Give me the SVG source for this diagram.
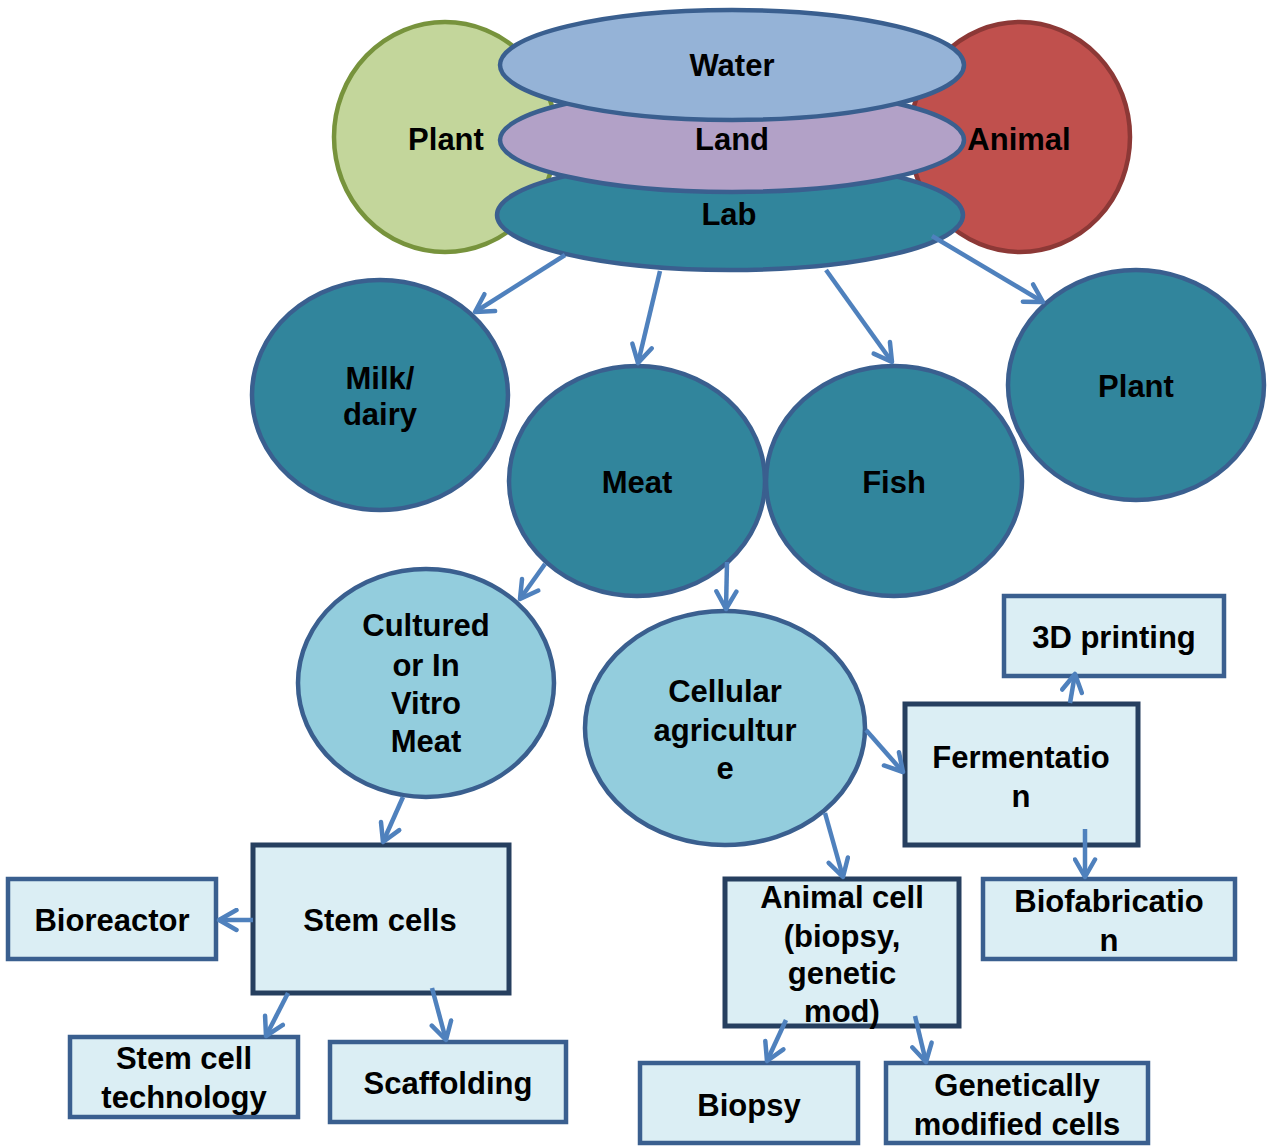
<svg xmlns="http://www.w3.org/2000/svg" width="1268" height="1147" viewBox="0 0 1268 1147">
<defs>
<style>
text{font-family:"Liberation Sans",Arial,sans-serif;font-weight:bold;font-size:31px;fill:#000;text-anchor:middle}
.teal{fill:#31859C;stroke:#3A5F8F;stroke-width:4.5}
.light{fill:#93CDDD;stroke:#3A5F8F;stroke-width:4.5}
.box{fill:#DBEEF4;stroke:#3A5F8F;stroke-width:4.5}
.dbox{fill:#DBEEF4;stroke:#263F5F;stroke-width:5}
.conn line{stroke:#4F81BD;stroke-width:4.5;marker-end:url(#arr)}
</style>
<marker id="arr" viewBox="0 0 20 20" refX="17" refY="10" markerWidth="25" markerHeight="25" markerUnits="userSpaceOnUse" orient="auto">
<path d="M3,2 L17,10 L3,18" fill="none" stroke="#4F81BD" stroke-width="3.6" stroke-linecap="round" stroke-linejoin="round"/>
</marker>
</defs>
<rect width="1268" height="1147" fill="#fff"/>

<g id="plant-top">
<ellipse cx="445" cy="137" rx="111" ry="115" fill="#C3D69B" stroke="#77933C" stroke-width="4.5"/>
<text x="446" y="150">Plant</text>
</g>
<g id="animal-top">
<ellipse cx="1020" cy="137" rx="110" ry="115" fill="#C0504D" stroke="#8C3836" stroke-width="4.5"/>
<text x="1019" y="150">Animal</text>
</g>
<g id="lab">
<ellipse class="teal" cx="730" cy="215" rx="233" ry="55"/>
<text x="729" y="225">Lab</text>
</g>
<g id="land">
<ellipse cx="732" cy="140" rx="232" ry="52" fill="#B2A1C7" stroke="#3A5F8F" stroke-width="4.5"/>
<text x="732" y="150">Land</text>
</g>
<g id="water">
<ellipse cx="732" cy="65" rx="232" ry="55" fill="#95B3D7" stroke="#3A5F8F" stroke-width="4.5"/>
<text x="732" y="76">Water</text>
</g>

<g id="milk">
<ellipse class="teal" cx="380" cy="395" rx="128" ry="115"/>
<text x="380" y="389">Milk/</text>
<text x="380" y="425">dairy</text>
</g>
<g id="meat">
<ellipse class="teal" cx="637" cy="481" rx="128" ry="115"/>
<text x="637" y="493">Meat</text>
</g>
<g id="fish">
<ellipse class="teal" cx="894" cy="481" rx="128" ry="115"/>
<text x="894" y="493">Fish</text>
</g>
<g id="plant">
<ellipse class="teal" cx="1136" cy="385" rx="128" ry="115"/>
<text x="1136" y="397">Plant</text>
</g>

<g id="cultured">
<ellipse class="light" cx="426" cy="683" rx="128" ry="114"/>
<text x="426" y="636">Cultured</text>
<text x="426" y="676">or In</text>
<text x="426" y="714">Vitro</text>
<text x="426" y="752">Meat</text>
</g>
<g id="cellular">
<ellipse class="light" cx="725" cy="728" rx="140" ry="117"/>
<text x="725" y="702">Cellular</text>
<text x="725" y="741">agricultur</text>
<text x="725" y="779">e</text>
</g>

<g id="stemcells">
<rect class="dbox" x="253" y="845" width="256" height="148"/>
<text x="380" y="931">Stem cells</text>
</g>
<g id="bioreactor">
<rect class="box" x="8" y="879" width="208" height="80"/>
<text x="112" y="931">Bioreactor</text>
</g>
<g id="stemcelltech">
<rect class="box" x="70" y="1037" width="228" height="80"/>
<text x="184" y="1069">Stem cell</text>
<text x="184" y="1108">technology</text>
</g>
<g id="scaffolding">
<rect class="box" x="330" y="1042" width="236" height="80"/>
<text x="448" y="1094">Scaffolding</text>
</g>
<g id="printing">
<rect class="box" x="1004" y="596" width="220" height="80"/>
<text x="1114" y="648">3D printing</text>
</g>
<g id="fermentation">
<rect class="dbox" x="905" y="704" width="233" height="141"/>
<text x="1021" y="768">Fermentatio</text>
<text x="1021" y="807">n</text>
</g>
<g id="biofabrication">
<rect class="box" x="983" y="879" width="252" height="80"/>
<text x="1109" y="912">Biofabricatio</text>
<text x="1109" y="951">n</text>
</g>
<g id="animalcell">
<rect class="dbox" x="725" y="879" width="234" height="147"/>
<text x="842" y="908">Animal cell</text>
<text x="842" y="947">(biopsy,</text>
<text x="842" y="984">genetic</text>
<text x="842" y="1022">mod)</text>
</g>
<g id="biopsy">
<rect class="box" x="640" y="1063" width="218" height="80"/>
<text x="749" y="1116">Biopsy</text>
</g>
<g id="genetically">
<rect class="box" x="886" y="1063" width="262" height="80"/>
<text x="1017" y="1096">Genetically</text>
<text x="1017" y="1135">modified cells</text>
</g>

<g id="connectors" class="conn">
<line x1="565" y1="255" x2="475" y2="312"/>
<line x1="660" y1="271" x2="638" y2="363"/>
<line x1="826" y1="270" x2="892" y2="362"/>
<line x1="932" y1="236" x2="1043" y2="302"/>
<line x1="545" y1="564" x2="520" y2="599"/>
<line x1="727" y1="562" x2="726" y2="609"/>
<line x1="403" y1="797" x2="383" y2="842"/>
<line x1="253" y1="920" x2="219" y2="920"/>
<line x1="288" y1="993" x2="266" y2="1036"/>
<line x1="432" y1="988" x2="446" y2="1040"/>
<line x1="866" y1="730" x2="903" y2="772"/>
<line x1="825" y1="813" x2="843" y2="877"/>
<line x1="1070" y1="703" x2="1075" y2="674"/>
<line x1="1085" y1="829" x2="1085" y2="877"/>
<line x1="786" y1="1020" x2="767" y2="1061"/>
<line x1="915" y1="1016" x2="926" y2="1062"/>
</g>
</svg>
